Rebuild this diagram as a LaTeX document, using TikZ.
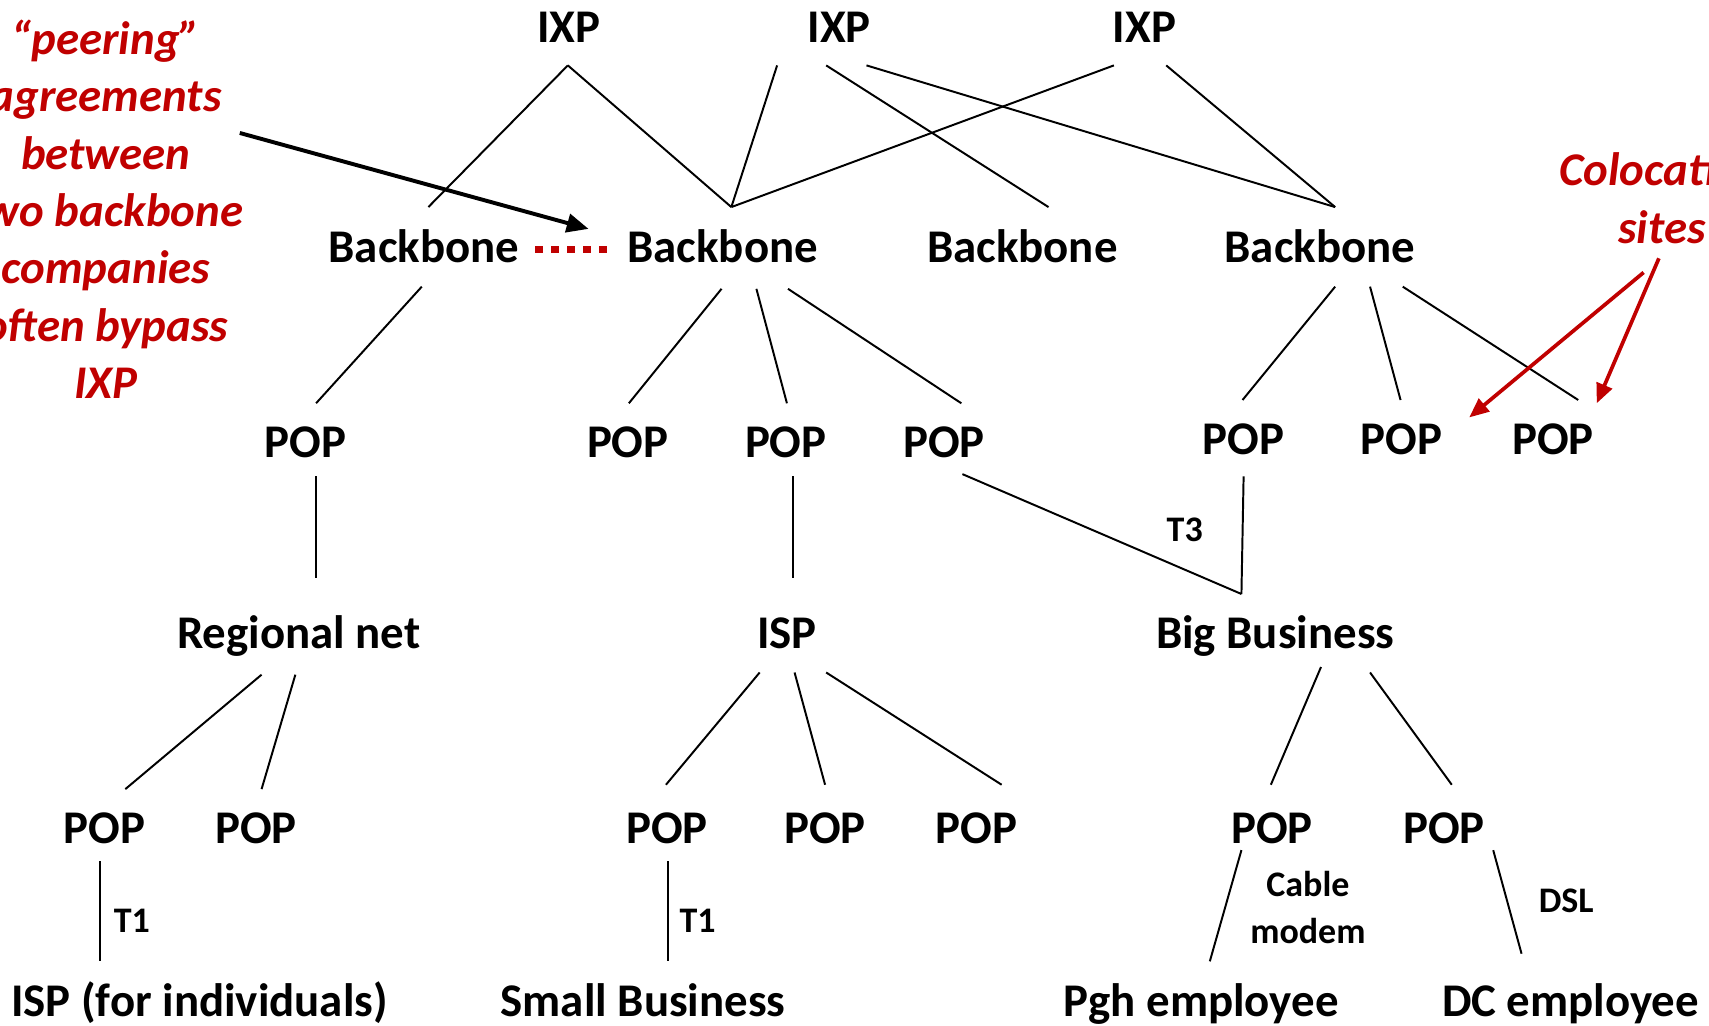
\documentclass[tikz,border=0pt]{standalone}
\usepackage{fontspec}
\setmainfont{Carlito}
\usetikzlibrary{arrows.meta}
\definecolor{ared}{HTML}{C00000}
\begin{document}
\begin{tikzpicture}[x=1pt,y=-1pt,
  lbl/.style={font=\fontsize{43}{52}\selectfont\bfseries, inner sep=0pt, anchor=base},
  sml/.style={font=\fontsize{33}{43}\selectfont\bfseries, inner sep=0pt, anchor=base},
  note/.style={font=\fontsize{43}{52.7}\selectfont\bfseries\itshape, text=ared, inner sep=0pt, align=center},
  conn/.style={line width=1.8pt},
  peerline/.style={ared, line width=6.5pt, dash pattern=on 7pt off 7.7pt},
  blackarrow/.style={line width=3.6pt, -{Triangle[length=20pt,width=17pt]}},
  redarrow/.style={ared, line width=3.4pt, -{Triangle[length=18pt,width=15pt]}}]
\clip (0,0) rectangle (1568,941);
\useasboundingbox (0,0) rectangle (1568,941);
% IXPs
\node[lbl] (ixp1) at (522,39) {IXP};
\node[lbl] (ixp2) at (770,39) {IXP};
\node[lbl] (ixp3) at (1050,39) {IXP};
% Backbones
\node[lbl] (bb1) at (389,241) {Backbone};
\node[lbl] (bb2) at (663,241) {Backbone};
\node[lbl] (bb3) at (938,241) {Backbone};
\node[lbl] (bb4) at (1211,241) {Backbone};
% POP row 1
\node[lbl] (pa) at (280,420) {POP};
\node[lbl] (pb) at (576,420) {POP};
\node[lbl] (pc) at (721,420) {POP};
\node[lbl] (pd) at (866,420) {POP};
\node[lbl] (pe) at (1141,417) {POP};
\node[lbl] (pf) at (1286,417) {POP};
\node[lbl] (pg) at (1425,417) {POP};
% row 3
\node[lbl] (reg) at (274,595) {Regional net};
\node[lbl] (isp) at (722,595) {ISP};
\node[lbl] (big) at (1170,595) {Big Business};
% POP row 2
\node[lbl] (qa) at (96,774) {POP};
\node[lbl] (qb) at (235,774) {POP};
\node[lbl] (qc) at (612,774) {POP};
\node[lbl] (qd) at (757,774) {POP};
\node[lbl] (qe) at (896,774) {POP};
\node[lbl] (qf) at (1167,774) {POP};
\node[lbl] (qg) at (1325,774) {POP};
% bottom row
\node[lbl] (ispind) at (183,933) {ISP (for individuals)};
\node[lbl] (small) at (590,933) {Small Business};
\node[lbl] (pgh) at (1102,933) {Pgh employee};
\node[lbl] (dc) at (1441,933) {DC employee};
% small labels
\node[sml] (t3) at (1087,497) {T3};
\node[sml] (t1a) at (121,856) {T1};
\node[sml] (t1b) at (640,856) {T1};
\node[sml, anchor=center, align=center] (cable) at (1200,833) {Cable\\modem};
\node[sml] (dsl) at (1437,837) {DSL};
% notes
\node[note] (peer) at (97,192) {“peering”\\agreements\\between\\two backbone\\companies\\often bypass\\IXP};
\node[note, font=\fontsize{43}{53}\selectfont\bfseries\itshape] (coloc) at (1525,182) {Colocation\\sites};
% IXP to backbone
\draw[conn] ([shift={(-1,21)}]ixp1.base) -- ([shift={(4,-51)}]bb1.base);
\draw[conn] ([shift={(-1,21)}]ixp1.base) -- ([shift={(8,-51)}]bb2.base);
\draw[conn] ([shift={(-57,21)}]ixp2.base) -- ([shift={(8,-51)}]bb2.base);
\draw[conn] ([shift={(-12,21)}]ixp2.base) -- ([shift={(24,-51)}]bb3.base);
\draw[conn] ([shift={(25,21)}]ixp2.base) -- ([shift={(14,-51)}]bb4.base);
\draw[conn] ([shift={(-28,21)}]ixp3.base) -- ([shift={(8,-51)}]bb2.base);
\draw[conn] ([shift={(20,21)}]ixp3.base) -- ([shift={(14,-51)}]bb4.base);
% backbone to POP
\draw[conn] ([shift={(-2,22)}]bb1.base) -- ([shift={(10,-50)}]pa.base);
\draw[conn] ([shift={(-1,24)}]bb2.base) -- ([shift={(1,-50)}]pb.base);
\draw[conn] ([shift={(31,24)}]bb2.base) -- ([shift={(1,-50)}]pc.base);
\draw[conn] ([shift={(60,24)}]bb2.base) -- ([shift={(16,-50)}]pd.base);
\draw[conn] ([shift={(14,22)}]bb4.base) -- ([shift={(-1,-50)}]pe.base);
\draw[conn] ([shift={(46,22)}]bb4.base) -- ([shift={(-1,-50)}]pf.base);
\draw[conn] ([shift={(76,22)}]bb4.base) -- ([shift={(23,-50)}]pg.base);
% POP to row 3
\draw[conn] ([shift={(10,17)}]pa.base) -- ([shift={(16,-65)}]reg.base);
\draw[conn] ([shift={(7,17)}]pc.base) -- ([shift={(6,-65)}]isp.base);
\draw[conn] ([shift={(17,15)}]pd.base) -- ([shift={(-31,-50)}]big.base);
\draw[conn] ([shift={(0,20)}]pe.base) -- ([shift={(-31,-50)}]big.base);
% row 3 to POP row 2
\draw[conn] ([shift={(-34,24)}]reg.base) -- ([shift={(19,-50)}]qa.base);
\draw[conn] ([shift={(-3,24)}]reg.base) -- ([shift={(5,-50)}]qb.base);
\draw[conn] ([shift={(-25,22)}]isp.base) -- ([shift={(-1,-54)}]qc.base);
\draw[conn] ([shift={(7,22)}]isp.base) -- ([shift={(0,-54)}]qd.base);
\draw[conn] ([shift={(36,22)}]isp.base) -- ([shift={(23,-54)}]qe.base);
\draw[conn] ([shift={(42,17)}]big.base) -- ([shift={(-1,-54)}]qf.base);
\draw[conn] ([shift={(87,22)}]big.base) -- ([shift={(7,-54)}]qg.base);
% POP row 2 to bottom
\draw[conn] ([shift={(-4,16)}]qa.base) -- ([shift={(-91,-51)}]ispind.base);
\draw[conn] ([shift={(1,16)}]qc.base) -- ([shift={(23,-51)}]small.base);
\draw[conn] ([shift={(-28,6)}]qf.base) -- ([shift={(8,-51)}]pgh.base);
\draw[conn] ([shift={(45,6)}]qg.base) -- ([shift={(-45,-58)}]dc.base);
% peering
\draw[peerline] ([shift={(102,-12)}]bb1.base) -- ([shift={(-106,-12)}]bb2.base);
\draw[blackarrow] ([shift={(123,-70)}]peer.center) -- ([shift={(-123,-31)}]bb2.base);
% colocation arrows
\draw[redarrow] ([shift={(-17,68)}]coloc.center) -- ([shift={(62,-34)}]pf.base);
\draw[redarrow] ([shift={(-3,55)}]coloc.center) -- ([shift={(40,-47)}]pg.base);
\end{tikzpicture}
\end{document}
